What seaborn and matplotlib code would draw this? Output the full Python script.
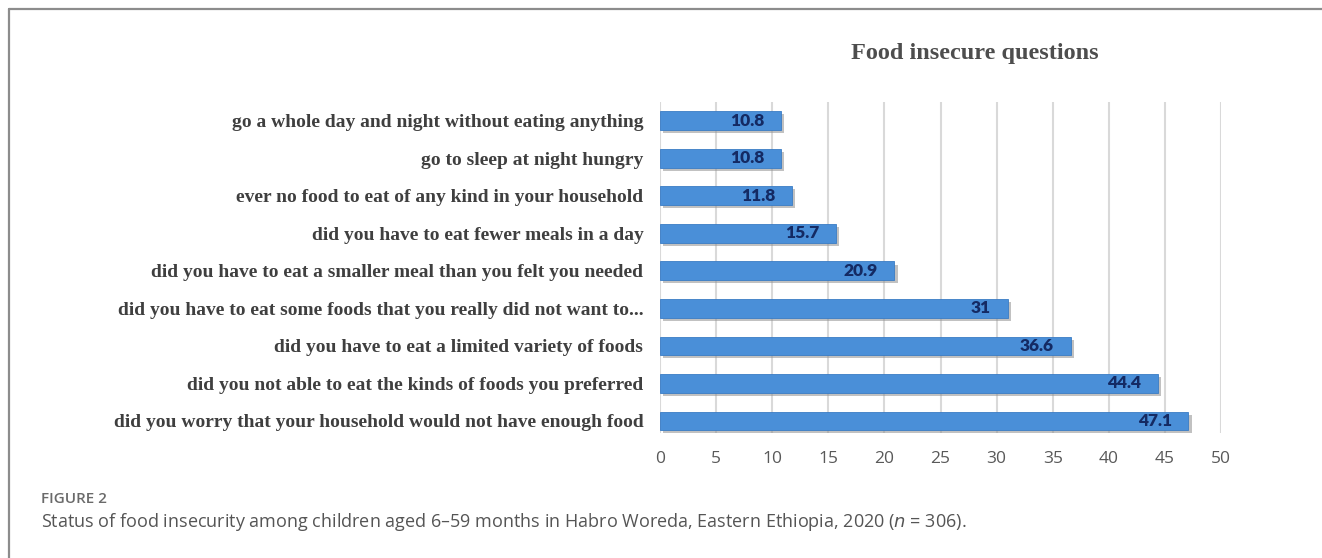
import matplotlib
matplotlib.use("Agg")
import matplotlib.pyplot as plt
import seaborn as sns
import pandas as pd
from matplotlib.lines import Line2D
import matplotlib.patheffects as pe

questions = [
    "go a whole day and night without eating anything",
    "go to sleep at night hungry",
    "ever no food to eat of any kind in your household",
    "did you have to eat fewer meals in a day",
    "did you have to eat a smaller meal than you felt you needed",
    "did you have to eat some foods that you really did not want to...",
    "did you have to eat a limited variety of foods",
    "did you not able to eat the kinds of foods you preferred",
    "did you worry that your household would not have enough food",
]
percent = [10.8, 10.8, 11.8, 15.7, 20.9, 31, 36.6, 44.4, 47.1]
x_ticks = [0, 5, 10, 15, 20, 25, 30, 35, 40, 45, 50]

df = pd.DataFrame({"question": questions, "percent": percent})

sns.set_theme(style="white")
fig = plt.figure(figsize=(13.22, 5.58), dpi=100)
W, H = 1322, 558
ax = fig.add_axes([660 / W, 1 - 433 / H, 561 / W, (433 - 102) / H])

sns.barplot(data=df, x="percent", y="question", order=questions, orient="h",
            color="#4a8fd8", width=0.5, edgecolor="#3a7cc4", linewidth=0.6,
            saturation=1, ax=ax, zorder=3)

for p in ax.patches:
    p.set_path_effects([pe.SimplePatchShadow(offset=(2.2, -2.2), shadow_rgbFace="#8f8f8f", alpha=0.55), pe.Normal()])

for p, v in zip(ax.patches, percent):
    ax.annotate("%g" % v, xy=(p.get_x() + p.get_width(), p.get_y() + p.get_height() / 2),
                xytext=(-12, 0), textcoords="offset points", ha="right", va="center",
                color="#142a63", fontsize=12.5, fontweight="heavy", family="Lato", zorder=5)

ax.set_xlim(0, 50)
ax.set_ylim(8.32, -0.5)
ax.set_xticks(x_ticks)
ax.set_xticklabels([str(t) for t in x_ticks], color="#595959", fontsize=12.5, family="Open Sans")
ax.tick_params(axis="x", length=0, pad=13)
ax.tick_params(axis="y", length=0, pad=12)
for lab in ax.get_yticklabels():
    lab.set_family("Liberation Serif")
    lab.set_fontweight("bold")
    lab.set_fontsize(14)
    lab.set_color("#3f3f3f")
ax.xaxis.grid(True, color="#d9d9d9", linewidth=1.5, zorder=0)
ax.yaxis.grid(False)
for s in ax.spines.values():
    s.set_visible(False)
ax.set_xlabel("")
ax.set_ylabel("")

fig.text(975 / W, 1 - 53 / H, "Food insecure questions", ha="center", va="center",
         family="Liberation Serif", fontweight="bold", fontsize=17.5, color="#4d4d4d")

fig.text(41 / W, 1 - 499 / H, "FIGURE 2", ha="left", va="center",
         family="Open Sans", fontweight="semibold", fontsize=11, color="#6a6a6a")
fig.text(41 / W, 1 - 522 / H,
         "Status of food insecurity among children aged 6\u201359 months in Habro Woreda, Eastern Ethiopia, 2020 ($n$ = 306).",
         ha="left", va="center", family="Open Sans", fontsize=13, color="#555555")

fig.add_artist(Line2D([9, W], [H - 9, H - 9], transform=None, color="#8c8c8c", linewidth=1.6))
fig.add_artist(Line2D([9, 9], [H - 9, 0], transform=None, color="#8c8c8c", linewidth=1.6))

fig.savefig("out.png", dpi=100)
